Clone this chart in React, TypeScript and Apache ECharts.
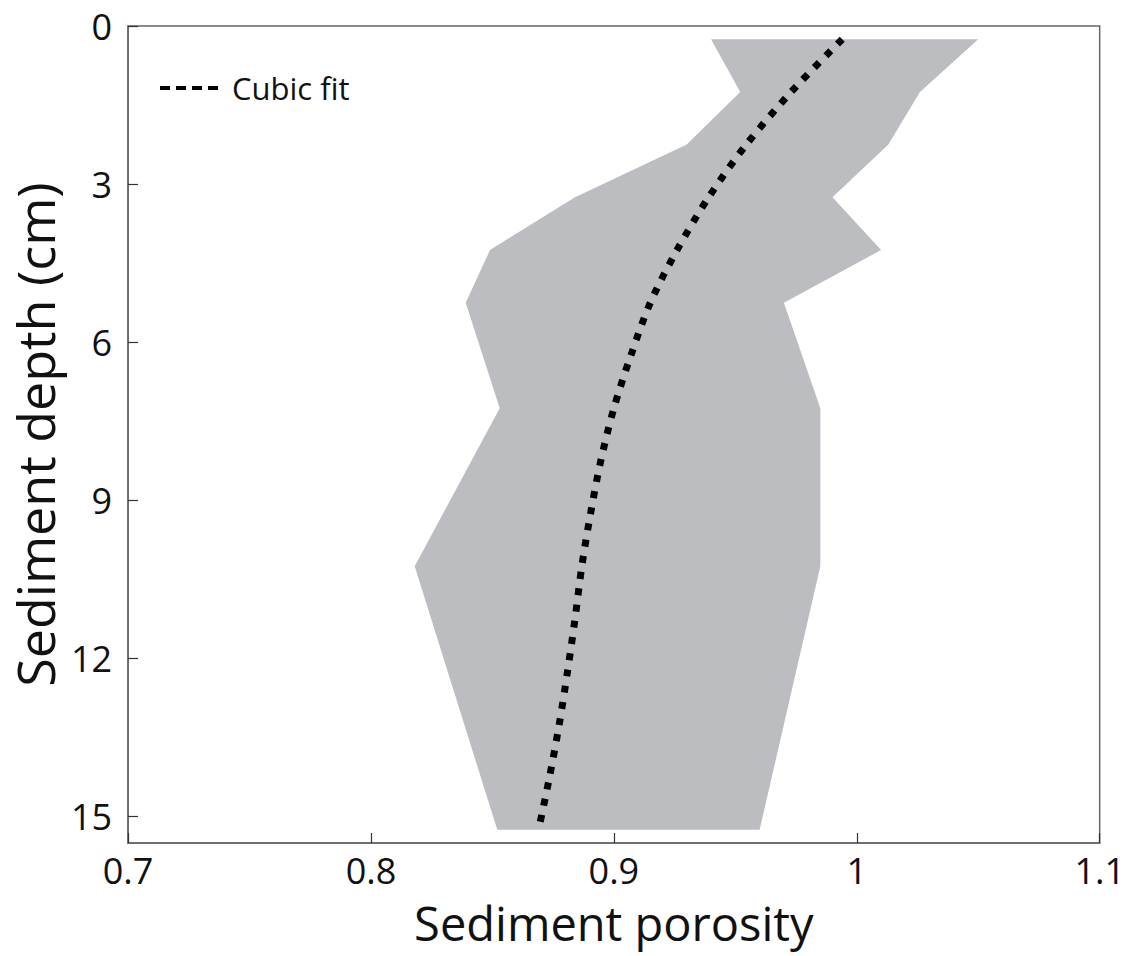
import React, { useEffect, useRef } from "react";
import * as echarts from "echarts";

// Band of measured porosity (min / max) at each sampled depth
const bandDepths = [0.25, 1.25, 2.25, 3.25, 4.25, 5.25, 7.25, 10.25, 15.25];
const bandLower = [0.94, 0.952, 0.93, 0.884, 0.849, 0.839, 0.853, 0.818, 0.852];
const bandUpper = [1.05, 1.026, 1.013, 0.99, 1.01, 0.97, 0.985, 0.985, 0.96];

// Cubic fit curve
const fitDepths = [0.25, 1.25, 2.25, 3.25, 4.25, 5.25, 6.25, 7.25, 8.25, 9.25, 10.25, 11.25, 12.25, 13.25, 14.25, 15.25];
const fitPorosity = [0.994, 0.973, 0.9545, 0.939, 0.926, 0.915, 0.907, 0.9, 0.8946, 0.8904, 0.8868, 0.884, 0.8809, 0.8775, 0.8735, 0.869];

const xTicks = { min: 0.7, max: 1.1, interval: 0.1 };
const yTicks = { min: 0, max: 15.5, interval: 3 };

const FONT = "'Open Sans', 'Noto Sans', sans-serif";

export default function App() {
  const ref = useRef<HTMLDivElement>(null);
  useEffect(() => {
    if (!ref.current) return;
    const chart = echarts.init(ref.current, undefined, { renderer: "svg" });

    const polygon: number[][] = [];
    bandDepths.forEach((d, i) => polygon.push([bandLower[i], d]));
    for (let i = bandDepths.length - 1; i >= 0; i--) polygon.push([bandUpper[i], bandDepths[i]]);

    const fitData = fitDepths.map((d, i) => [fitPorosity[i], d]);

    chart.setOption({
      animation: false,
      backgroundColor: "#ffffff",
      textStyle: { fontFamily: FONT },
      grid: {
        left: 128,
        right: 28,
        top: 26,
        bottom: 113,
        show: true,
        borderColor: "#666",
        borderWidth: 1.5,
        backgroundColor: "transparent",
      },
      xAxis: {
        type: "value",
        position: "bottom",
        min: xTicks.min,
        max: xTicks.max,
        interval: xTicks.interval,
        name: "Sediment porosity",
        nameLocation: "middle",
        nameGap: 56,
        nameTextStyle: { fontSize: 47, lineHeight: 47, color: "#111", fontFamily: FONT },
        axisLine: { show: true, onZero: false, lineStyle: { color: "#666", width: 1.5 } },
        axisTick: { show: true, inside: true, length: 10, lineStyle: { color: "#333", width: 1.2 } },
        axisLabel: { fontSize: 36, lineHeight: 36, color: "#111", margin: 9, fontFamily: FONT },
        splitLine: { show: false },
      },
      yAxis: {
        type: "value",
        position: "left",
        inverse: true,
        min: yTicks.min,
        max: yTicks.max,
        interval: yTicks.interval,
        name: "Sediment depth (cm)",
        nameLocation: "middle",
        nameGap: 66,
        nameTextStyle: { fontSize: 52, lineHeight: 52, color: "#111", fontFamily: FONT },
        axisLine: { show: true, onZero: false, lineStyle: { color: "#666", width: 1.5 } },
        axisTick: { show: true, inside: true, length: 10, lineStyle: { color: "#333", width: 1.2 } },
        axisLabel: { fontSize: 36, lineHeight: 36, color: "#111", margin: 16, showMaxLabel: false, fontFamily: FONT },
        splitLine: { show: false },
      },
      series: [
        {
          type: "custom",
          silent: true,
          z: 1,
          data: polygon,
          encode: { x: 0, y: 1 },
          renderItem: (params: any, api: any) => {
            if (params.dataIndex !== 0) return null;
            const pts = polygon.map((p) => api.coord(p));
            return {
              type: "polygon",
              shape: { points: pts },
              style: { fill: "#bcbdc1", stroke: "none" },
            };
          },
        },
        {
          type: "line",
          name: "Cubic fit",
          z: 3,
          data: fitData,
          smooth: 0.3,
          showSymbol: false,
          symbol: "none",
          lineStyle: { color: "#000", width: 7, type: [7, 9.4], cap: "butt" },
        },
      ],
      graphic: [
        {
          type: "line",
          shape: { x1: 160, y1: 88, x2: 218, y2: 88 },
          style: { stroke: "#000", lineWidth: 4, lineDash: [10, 6] },
        },
        {
          type: "text",
          x: 232,
          y: 88,
          style: {
            text: "Cubic fit",
            fontSize: 31,
            fontFamily: FONT,
            fill: "#111",
            verticalAlign: "middle",
            align: "left",
          },
        },
      ],
    });
    return () => chart.dispose();
  }, []);
  return (
    <div
      ref={ref}
      style={{ position: "absolute", left: 0, top: 0, width: 1128, height: 956 }}
    />
  );
}
